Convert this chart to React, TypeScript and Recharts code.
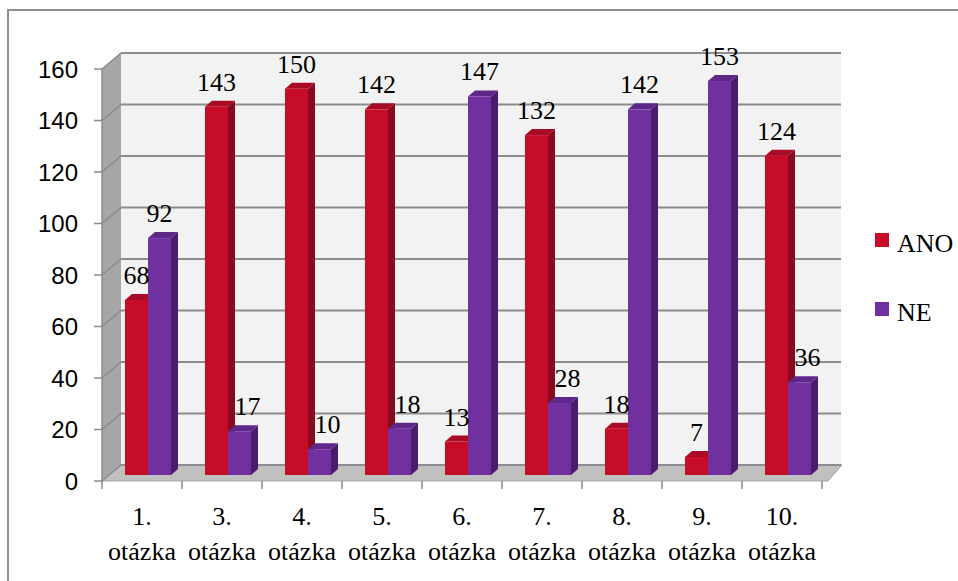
import { BarChart, Bar, XAxis, YAxis, CartesianGrid, LabelList } from 'recharts';

const categories = [
  '1. otázka',
  '3. otázka',
  '4. otázka',
  '5. otázka',
  '6. otázka',
  '7. otázka',
  '8. otázka',
  '9. otázka',
  '10. otázka',
];
const anoValues = [68, 143, 150, 142, 13, 132, 18, 7, 124];
const neValues = [92, 17, 10, 18, 147, 28, 142, 153, 36];
const seriesNames = ['ANO', 'NE'];
const yTicks = [0, 20, 40, 60, 80, 100, 120, 140, 160];

const data = categories.map((name, i) => ({
  name,
  ANO: anoValues[i],
  NE: neValues[i],
}));

const W = 958;
const H = 581;
// plane in which the bar fronts stand
const L = 108;
const R = 828;
const T = 63;
const B = 475;
// front edge (axes) and back wall relative to the bar plane
const FX = -6;
const FY = 6;
const BX = 13;
const BY = -10;
// bar depth
const DX = 7;
const DY = -6;
const Y_AXIS_W = 60;
const X_AXIS_H = 40;

const serif = { fontFamily: "'Liberation Serif', serif" };
const sans = { fontFamily: "'Liberation Sans', sans-serif" };

const colors = {
  ANO: { front: '#c70c29', side: '#880a1d', top: '#a90a24' },
  NE: { front: '#7030a0', side: '#4a1d6b', top: '#5e2789' },
};

function Prism(props: any) {
  const { x, y, width, height, c } = props;
  if (height <= 0) return null;
  const x2 = x + width;
  const yb = y + height;
  return (
    <g>
      <polygon
        points={`${x2},${y} ${x2 + DX},${y + DY} ${x2 + DX},${yb + DY} ${x2},${yb}`}
        fill={c.side}
      />
      <polygon
        points={`${x},${y} ${x + DX},${y + DY} ${x2 + DX},${y + DY} ${x2},${y}`}
        fill={c.top}
      />
      <rect x={x} y={y} width={width} height={height} fill={c.front} />
    </g>
  );
}

function gridLine(p: any) {
  const { x1, x2, y1 } = p;
  return (
    <g key={`grid-${y1}`}>
      <line x1={x1 + FX} y1={y1 + FY} x2={x1 + BX} y2={y1 + BY} stroke="#8a8a8a" strokeWidth={1.5} />
      <line x1={x1 + BX} y1={y1 + BY} x2={x2 + BX} y2={y1 + BY} stroke="#8c8c8c" strokeWidth={2} />
    </g>
  );
}

function YTick(p: any) {
  const { y, payload } = p;
  const yy = y + FY;
  return (
    <g>
      <line x1={L + FX - 8} y1={yy} x2={L + FX} y2={yy} stroke="#8c8c8c" strokeWidth={1.5} />
      <text x={78} y={yy} textAnchor="end" dominantBaseline="central" style={sans} fontSize={24} fill="#000">
        {payload.value}
      </text>
    </g>
  );
}

function XTick(p: any) {
  const { x, payload, index } = p;
  const band = (R - L) / categories.length;
  const cx = x + FX;
  const [num, word] = String(payload.value).split(' ');
  const ticks = [cx - band / 2];
  if (index === categories.length - 1) ticks.push(cx + band / 2);
  return (
    <g>
      {ticks.map((tx) => (
        <line key={tx} x1={tx} y1={B + FY} x2={tx} y2={B + FY + 8} stroke="#8c8c8c" strokeWidth={1.5} />
      ))}
      <text x={cx} y={525} textAnchor="middle" style={serif} fontSize={26} fill="#000">
        {num}
      </text>
      <text x={cx} y={560} textAnchor="middle" style={serif} fontSize={26} fill="#000">
        {word}
      </text>
    </g>
  );
}

function valueLabel(key: 'ANO' | 'NE') {
  return (p: any) => {
    const { x, y, width, value, index } = p;
    // short purple bars next to a taller red one get their label nudged right
    const nudge = key === 'NE' && neValues[index] < anoValues[index] ? 8 : 0;
    return (
      <text
        x={x + width / 2 + nudge}
        y={y - 16}
        textAnchor="middle"
        style={serif}
        fontSize={26}
        fill="#000"
      >
        {value}
      </text>
    );
  };
}

function Walls() {
  return (
    <svg width={W} height={H} style={{ position: 'absolute', left: 0, top: 0 }}>
      <rect x={L + BX} y={T + BY} width={R - L} height={B - T} fill="#f2f2f2" />
      <polygon
        points={`${L + FX},${T + FY} ${L + BX},${T + BY} ${L + BX},${B + BY} ${L + FX},${B + FY}`}
        fill="#a6a6a6"
      />
      <polygon
        points={`${L + FX},${B + FY} ${R + FX + 6},${B + FY} ${R + BX + 1},${B + BY} ${L + BX},${B + BY}`}
        fill="#c0c0c0"
        stroke="#a3a3a3"
        strokeWidth={1}
      />
      <line x1={L + FX} y1={T + FY} x2={L + FX} y2={B + FY} stroke="#8c8c8c" strokeWidth={1.5} />
    </svg>
  );
}

function Legend() {
  const rows = [
    { name: seriesNames[0], color: colors.ANO.front, y: 252 },
    { name: seriesNames[1], color: colors.NE.front, y: 321 },
  ];
  return (
    <svg width={W} height={H} style={{ position: 'absolute', left: 0, top: 0, pointerEvents: 'none' }}>
      {rows.map((r) => (
        <g key={r.name}>
          <rect x={875} y={r.y - 19} width={14} height={14} fill={r.color} />
          <text x={897} y={r.y} style={serif} fontSize={26} fill="#000">
            {r.name}
          </text>
        </g>
      ))}
    </svg>
  );
}

export default function App() {
  return (
    <div
      style={{
        position: 'absolute',
        left: 0,
        top: 0,
        width: W,
        height: H,
        overflow: 'hidden',
        background: '#fff',
      }}
    >
      <div
        style={{
          position: 'absolute',
          left: 7,
          top: 9,
          width: W,
          height: H,
          borderLeft: '2px solid #8f8f8f',
          borderTop: '2px solid #8f8f8f',
        }}
      />
      <Walls />
      <div style={{ position: 'absolute', left: 0, top: 0 }}>
        <BarChart
          width={W}
          height={H}
          data={data}
          margin={{ top: T, right: W - R, bottom: H - B - X_AXIS_H, left: L - Y_AXIS_W }}
          barSize={23}
          barGap={0}
        >
          <CartesianGrid vertical={false} horizontal={gridLine} />
          <YAxis
            width={Y_AXIS_W}
            domain={[0, 160]}
            ticks={yTicks}
            interval={0}
            axisLine={false}
            tickLine={false}
            tick={<YTick />}
          />
          <XAxis
            dataKey="name"
            height={X_AXIS_H}
            interval={0}
            axisLine={false}
            tickLine={false}
            tick={<XTick />}
          />
          <Bar dataKey="ANO" isAnimationActive={false} shape={(p: any) => <Prism {...p} c={colors.ANO} />}>
            <LabelList dataKey="ANO" content={valueLabel('ANO')} />
          </Bar>
          <Bar dataKey="NE" isAnimationActive={false} shape={(p: any) => <Prism {...p} c={colors.NE} />}>
            <LabelList dataKey="NE" content={valueLabel('NE')} />
          </Bar>
        </BarChart>
      </div>
      <Legend />
    </div>
  );
}
